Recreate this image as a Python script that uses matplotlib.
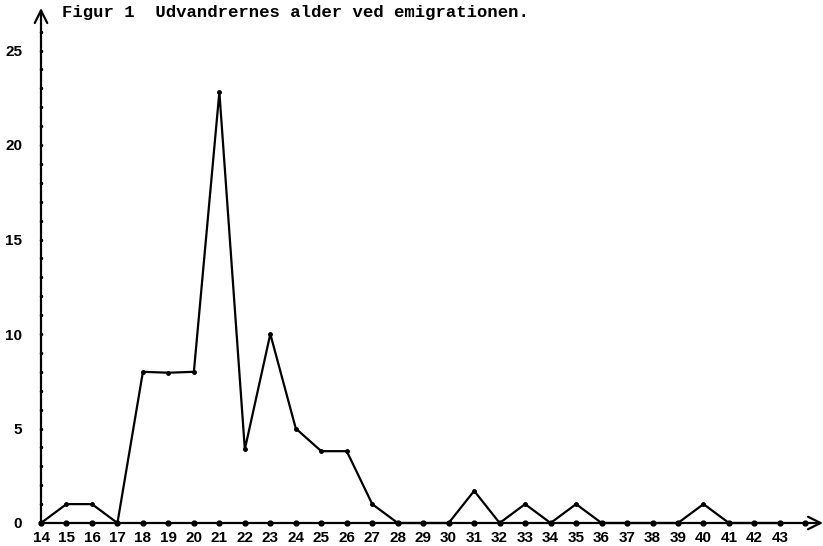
import matplotlib
matplotlib.use("Agg")
import matplotlib.pyplot as plt

ages = list(range(14, 44))
counts = [0, 1, 1, 0, 8, 7.95, 8, 22.8, 3.9, 10, 5, 3.8, 3.8, 1, 0,
          0, 0, 1.7, 0, 1, 0, 1, 0, 0, 0, 0, 1, 0, 0, 0]
axis_dots = list(range(14, 45))
x_tick_labels = [str(a) for a in ages]
y_ticks = [0, 5, 10, 15, 20, 25]
y_minor = list(range(1, 27))
title = "Figur 1  Udvandrernes alder ved emigrationen."

W, H = 823, 546
fig = plt.figure(figsize=(W / 100, H / 100), dpi=100)
ax = fig.add_axes([41 / W, 23 / H, (W - 41) / W, (523 - 8) / H])
ax.set_xlim(14, 14 + 782 / 25.48)
ax.set_ylim(0, 515 / 18.9)
for s in ax.spines.values():
    s.set_visible(False)
ax.patch.set_alpha(0)

# axes as arrows
ax.annotate("", xy=(1.0, 0), xycoords=("axes fraction", "data"),
            xytext=(14, 0), textcoords="data",
            arrowprops=dict(arrowstyle="->,head_length=0.9,head_width=0.45",
                            lw=1.6, color="black", shrinkA=0, shrinkB=0),
            annotation_clip=False)
ax.annotate("", xy=(14, 1.0), xycoords=("data", "axes fraction"),
            xytext=(14, 0), textcoords="data",
            arrowprops=dict(arrowstyle="->,head_length=0.9,head_width=0.45",
                            lw=1.6, color="black", shrinkA=0, shrinkB=0),
            annotation_clip=False)

# dots on axes
ax.plot(axis_dots, [0] * len(axis_dots), "o", color="black", ms=3.5, clip_on=False)
ax.plot([14] * len(y_minor), y_minor, "o", color="black", ms=1.5, clip_on=False)

# data line
ax.plot(ages, counts, "-o", color="black", lw=1.6, ms=2.5, clip_on=False)

ax.set_xticks(ages)
ax.set_xticklabels(x_tick_labels)
ax.set_yticks(y_ticks)
ax.tick_params(axis="x", length=0, pad=5.5)
ax.tick_params(axis="y", length=0, pad=13.5)
for lab in ax.get_xticklabels() + ax.get_yticklabels():
    lab.set_fontfamily("Liberation Sans")
    lab.set_fontweight("bold")
    lab.set_fontsize(11)

fig.text(62 / W, 1 - 12 / H, title, family="Liberation Mono", fontsize=12.4,
         fontweight="bold", va="center", ha="left")

fig.savefig("out.png", dpi=100, facecolor="white")
